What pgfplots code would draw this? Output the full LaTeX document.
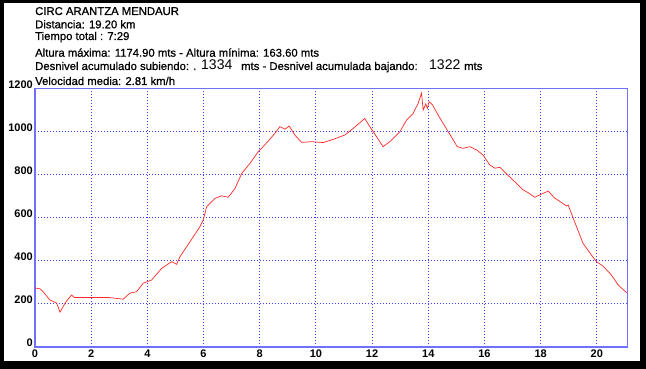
\documentclass[border=0pt]{standalone}
\usepackage{pgfplots}
\pgfplotsset{compat=1.18}
\usepackage{fontspec}
\setmainfont{Liberation Sans}
\newfontface\tickbf{Liberation Sans Bold}
\newfontface\hdrfont[FakeBold=0.8]{Liberation Sans}
\definecolor{axblue}{RGB}{112,112,255}
\definecolor{gridblue}{RGB}{60,60,255}
\definecolor{profred}{RGB}{255,40,40}
\begin{document}
\begin{tikzpicture}[x=1pt,y=1pt]
\useasboundingbox (0,0) rectangle (646,369);
\fill[black] (0,0) rectangle (646,369);
\fill[white] (4,8) rectangle (640,366);
\begin{axis}[
  at={(35pt,22pt)}, anchor=south west,
  scale only axis, width=592.7pt, height=258.5pt,
  xmin=0, xmax=21.1, ymin=0, ymax=1200,
  xtick={0,2,...,20}, ytick={0,200,...,1200},
  major tick length=0pt,
  grid=major,
  grid style={gridblue, line width=0.9pt, dash pattern=on 1.3pt off 1.7pt},
  axis line style={axblue, line width=1.2pt},
  tick label style={font=\tickbf\fontsize{11}{11}\selectfont, text=black, inner sep=0pt},
  yticklabel style={anchor=base east, xshift=-2pt},
  xticklabel style={anchor=north, yshift=-3pt},
  /pgf/number format/assume math mode=true,
  /pgf/number format/1000 sep={},
]
\addplot[profred, line width=0.7pt] coordinates {
(0,274) (0.18,270) (0.3,255) (0.53,218) (0.77,204) (0.89,162) (1.1,210) (1.3,241)
(1.4,230) (2.0,230) (2.6,230) (3.14,222) (3.38,250) (3.62,257) (3.85,296) (4.15,311)
(4.51,365) (4.86,396) (5.04,384) (5.16,419) (5.52,489) (5.87,558) (5.99,590) (6.11,651)
(6.41,690) (6.64,702) (6.88,695) (7.12,736) (7.36,806) (7.65,852) (7.95,907) (8.12,930)
(8.36,964) (8.54,992) (8.72,1023) (8.90,1011) (9.05,1026) (9.25,984) (9.49,950) (9.85,953)
(10.26,949) (10.62,964) (11.03,984) (11.33,1015) (11.74,1061) (11.92,1023) (12.16,976)
(12.39,930) (12.63,953) (12.75,968) (12.99,999) (13.23,1054) (13.46,1084) (13.64,1131)
(13.76,1178) (13.82,1100) (13.91,1128) (13.97,1108) (14.03,1139) (14.15,1124) (14.35,1077)
(14.53,1038) (14.71,999) (14.89,961) (15.03,930) (15.24,922) (15.48,930) (15.72,915)
(15.95,891) (16.19,845) (16.37,830) (16.55,834) (16.79,803) (17.08,767) (17.38,729)
(17.56,716) (17.79,695) (18.03,710) (18.27,724) (18.51,690) (18.57,686) (18.92,655)
(18.98,659) (19.28,558) (19.51,481) (19.81,427) (19.99,396) (20.22,376) (20.52,334)
(20.76,288) (21.06,252)
};
\end{axis}
\begin{scope}[every node/.style={anchor=base west, inner sep=0pt, font=\hdrfont\fontsize{11.3}{13}\selectfont}]
\node at (35,354) {CIRC ARANTZA MENDAUR};
\node at (35,340.7) {Distancia: 19.20 km};
\node at (35,329) {Tiempo total : 7:29};
\node at (35,312.3) {Altura máxima: 1174.90 mts - Altura mínima: 163.60 mts};
\node at (35,299) {Desnivel acumulado subiendo: .};
\node[font=\fontsize{14}{14}\selectfont] at (201,299) {1334};
\node at (241,299) {mts - Desnivel acumulada bajando:};
\node[font=\fontsize{14}{14}\selectfont] at (429,299) {1322};
\node at (464,299) {mts};
\node at (35,284) {Velocidad media: 2.81 km/h};
\end{scope}
\end{tikzpicture}
\end{document}
